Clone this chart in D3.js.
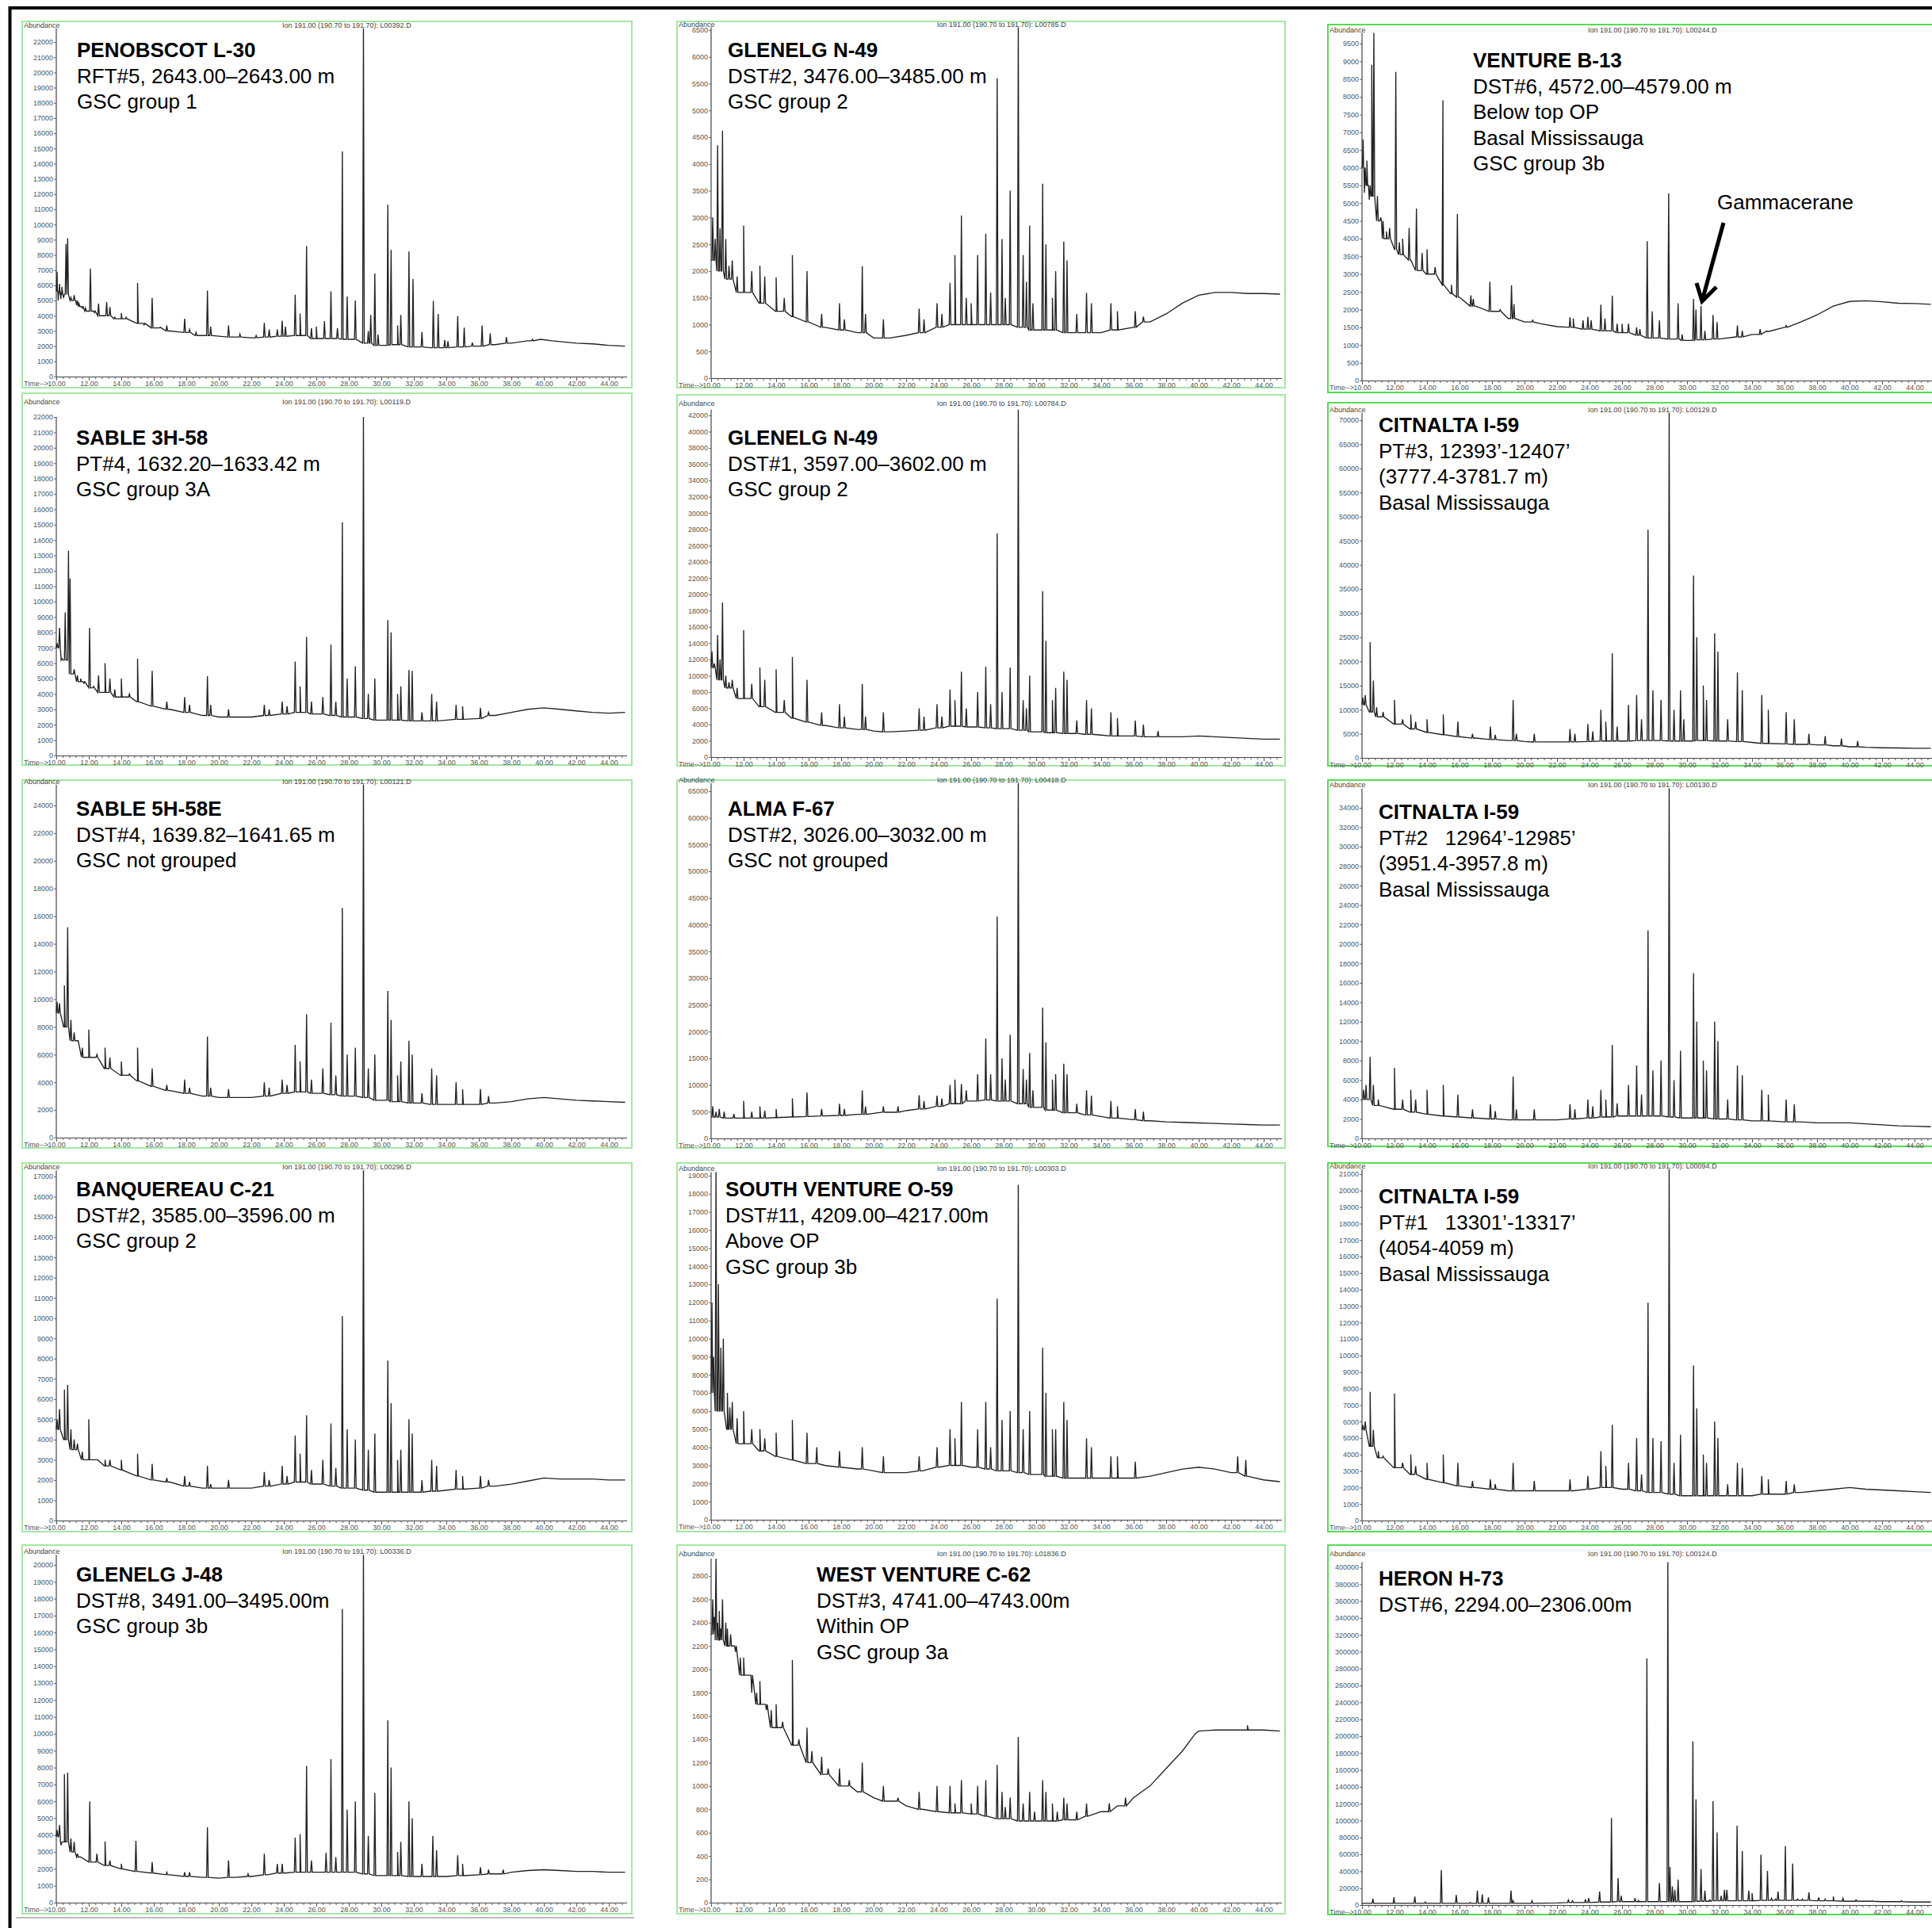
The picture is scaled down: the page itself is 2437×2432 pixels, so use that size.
<!DOCTYPE html>
<html>
<head>
<meta charset="utf-8">
<script src="https://cdn.jsdelivr.net/npm/d3@7"></script>
<style>
body { margin: 0; background: #fff; }
svg { display: block; font-family: "Liberation Sans", Arial, sans-serif; }
</style>
</head>
<body>
<svg id="chart" width="2437" height="2432"></svg>
<script>
// ---- data: [retention time (min), abundance] ----
var xTicks = [10, 12, 14, 16, 18, 20, 22, 24, 26, 28, 30, 32, 34, 36, 38, 40, 42, 44];

var titles = [
  ["PENOBSCOT L-30", "RFT#5, 2643.00–2643.00 m", "GSC group 1"],
  ["GLENELG N-49", "DST#2, 3476.00–3485.00 m", "GSC group 2"],
  ["VENTURE B-13", "DST#6, 4572.00–4579.00 m", "Below top OP", "Basal Mississauga", "GSC group 3b"],
  ["SABLE 3H-58", "PT#4, 1632.20–1633.42 m", "GSC group 3A"],
  ["GLENELG N-49", "DST#1, 3597.00–3602.00 m", "GSC group 2"],
  ["CITNALTA I-59", "PT#3, 12393’-12407’", "(3777.4-3781.7 m)", "Basal Mississauga"],
  ["SABLE 5H-58E", "DST#4, 1639.82–1641.65 m", "GSC not grouped"],
  ["ALMA F-67", "DST#2, 3026.00–3032.00 m", "GSC not grouped"],
  ["CITNALTA I-59", "PT#2   12964’-12985’", "(3951.4-3957.8 m)", "Basal Mississauga"],
  ["BANQUEREAU C-21", "DST#2, 3585.00–3596.00 m", "GSC group 2"],
  ["SOUTH VENTURE O-59", "DST#11, 4209.00–4217.00m", "Above OP", "GSC group 3b"],
  ["CITNALTA I-59", "PT#1   13301’-13317’", "(4054-4059 m)", "Basal Mississauga"],
  ["GLENELG J-48", "DST#8, 3491.00–3495.00m", "GSC group 3b"],
  ["WEST VENTURE C-62", "DST#3, 4741.00–4743.00m", "Within OP", "GSC group 3a"],
  ["HERON H-73", "DST#6, 2294.00–2306.00m"]
];

var fileIds = ["L00392.D", "L00785.D", "L00244.D", "L00119.D", "L00784.D", "L00129.D", "L00121.D",
  "L00418.D", "L00130.D", "L00296.D", "L00303.D", "L00094.D", "L00336.D", "L01836.D", "L00124.D"];

// [tick step, top labelled tick]
var yTickSpec = [[1000, 22000], [500, 6500], [500, 9500], [1000, 22000], [2000, 42000], [5000, 70000],
  [2000, 24000], [5000, 65000], [2000, 34000], [1000, 17000], [1000, 19000], [1000, 21000],
  [1000, 20000], [200, 2800], [20000, 400000]];

var base1 = [[10,5600],[10.5,5400],[11,5000],[11.5,4600],[12,4300],[13,4000],[14,3800],[15,3500],[16,3200],[17,3000],[18,2900],[19,2700],[20,2650],[21,2600],[22,2550],[23,2600],[24,2650],[25,2700],[26,2500],[27,2500],[28,2450],[29,2200],[30,2050],[31,2100],[32,1950],[33,1900],[34,1900],[35,1950],[36,2000],[37,2100],[38,2200],[39,2350],[39.8,2450],[40.5,2350],[42,2200],[43,2150],[44,2050],[45,2000]];
var peaks1 = [[10.05,6900],[10.12,5000],[10.2,6100],[10.28,5100],[10.35,5900],[10.45,5200],[10.6,8700],[10.7,9100],[10.9,5200],[11.1,5350],[11.25,4700],[11.4,4800],[11.6,4500],[11.8,4500],[12.1,7100],[12.35,4200],[12.6,4800],[13.1,4900],[13.3,4570],[13.6,3900],[14.0,4170],[14.3,3900],[15.0,6150],[15.4,3400],[15.9,5170],[16.4,3250],[16.8,3360],[17.9,3800],[18.2,3100],[18.6,2900],[19.3,5650],[19.5,3280],[20.6,3360],[21.3,2800],[22.3,2700],[22.8,3530],[23.1,3100],[23.6,3100],[23.9,3670],[24.1,3280],[24.7,5380],[25.0,4140],[25.4,8570],[25.7,3190],[26.0,3280],[26.5,3650],[26.9,5600],[27.3,3190],[27.6,14800],[27.9,5260],[28.4,5000],[28.9,22900],[29.2,3000],[29.35,4050],[29.6,6780],[29.8,2760],[30.4,11300],[30.6,8330],[31.0,3360],[31.2,4050],[31.7,8220],[31.95,6410],[32.5,2930],[33.2,4980],[33.5,4120],[33.9,2410],[34.1,2330],[34.7,3970],[35.1,3220],[35.6,2240],[36.2,3360],[36.7,2840],[37.7,2590],[39.3,2450]];

var base2 = [[10,2200],[10.5,2000],[11,1850],[12,1600],[13,1400],[14,1250],[15,1150],[16,1050],[17,950],[18,900],[19,850],[20,750],[21,750],[22,800],[23,850],[24,950],[25,1000],[26,1000],[27,1000],[28,1000],[29,950],[30,900],[31,900],[32,850],[33,850],[34,850],[35,900],[36,950],[37,1050],[38,1200],[39,1400],[40,1550],[41,1600],[42,1600],[43,1580],[44,1580],[45,1570]];
var peaks2 = [[10.1,3000],[10.25,2600],[10.4,4350],[10.55,2800],[10.7,4620],[10.9,2600],[11.1,2100],[11.3,2200],[11.6,1900],[12.0,2850],[12.5,2000],[13.0,2100],[13.3,1900],[14.0,1880],[14.5,1500],[15.0,2300],[15.9,2000],[16.8,1200],[17.9,1400],[18.2,1100],[19.3,2090],[19.5,1200],[20.6,1100],[22.8,1300],[23.1,1100],[23.9,1400],[24.2,1200],[24.7,1780],[25.0,2300],[25.4,3040],[25.7,1500],[26.0,1400],[26.4,2300],[26.9,2700],[27.2,1600],[27.6,5600],[27.9,2600],[28.1,1500],[28.4,3500],[28.9,6550],[29.2,2300],[29.4,1800],[29.6,2850],[29.8,1400],[30.4,3630],[30.6,2500],[31.0,1500],[31.2,2000],[31.7,2550],[31.9,2200],[32.5,1200],[33.1,1590],[33.4,1400],[34.6,1400],[35.0,1250],[36.1,1250],[36.6,1150]];

var base3 = [[10,6000],[10.3,5500],[10.6,5200],[11,4500],[11.5,4000],[12,3700],[12.5,3550],[13,3400],[13.5,3100],[14,3000],[15,2700],[15.5,2450],[16,2350],[17,2100],[18,1950],[19,1750],[20,1650],[21,1600],[22,1520],[23,1500],[24,1450],[25,1400],[26,1350],[27,1280],[28,1200],[29,1170],[30,1130],[31,1150],[32,1170],[33,1230],[34,1300],[35,1380],[36,1500],[37,1650],[38,1850],[39,2100],[40,2230],[41,2250],[42,2220],[43,2180],[44,2170],[45,2150]];
var peaks3 = [[10.07,6800],[10.15,5300],[10.3,6200],[10.45,5100],[10.6,8900],[10.73,9800],[10.95,5200],[11.15,4600],[11.3,4500],[11.5,4200],[11.7,4300],[12.08,8700],[12.3,3900],[12.5,4000],[12.9,4300],[13.35,4850],[13.7,3600],[14.0,3700],[14.5,3200],[14.98,7900],[15.5,2700],[15.87,4700],[16.7,2400],[16.85,2300],[17.87,2780],[18.5,2000],[19.2,2680],[19.35,2150],[20.5,1700],[22.8,1780],[23.0,1750],[23.6,1700],[23.9,1800],[24.1,1700],[24.7,2140],[24.95,1750],[25.4,2390],[25.7,1600],[26.0,1600],[26.4,1600],[26.9,1500],[27.1,1450],[27.55,3930],[27.86,1950],[28.3,1700],[28.87,5280],[29.45,2180],[29.7,1300],[30.4,2300],[30.55,2000],[30.86,2100],[31.1,1400],[31.6,1850],[31.85,1650],[33.1,1550],[33.4,1400],[34.5,1450],[34.9,1400],[36.1,1550]];

var base4 = [[10,7000],[10.5,6200],[11,5300],[11.5,4800],[12,4400],[13,4100],[14,3800],[15,3500],[16,3200],[17,3000],[18,2800],[19,2600],[20,2500],[21,2500],[22,2500],[23,2600],[24,2700],[25,2800],[26,2700],[27,2600],[28,2500],[29,2400],[30,2300],[31,2300],[32,2250],[33,2250],[34,2300],[35,2350],[36,2400],[37,2600],[38,2800],[39,3000],[40,3100],[41,3000],[42,2900],[43,2800],[44,2750],[45,2800]];
var peaks4 = [[10.05,7300],[10.2,8300],[10.35,6300],[10.55,9300],[10.75,13300],[10.85,11500],[11.1,5600],[11.3,5200],[11.5,5000],[11.7,4700],[12.05,8300],[12.3,4500],[12.6,5200],[13.0,6000],[13.3,5000],[13.6,4300],[14.0,5000],[14.5,4000],[15.0,6300],[15.9,5500],[16.8,3500],[17.9,3800],[18.2,3300],[19.3,5150],[19.5,3300],[20.6,3000],[22.8,3300],[23.1,3000],[23.9,3500],[24.2,3200],[24.7,6100],[25.0,4500],[25.4,7700],[25.7,3500],[26.4,3800],[26.9,7200],[27.2,3500],[27.6,15150],[27.9,5000],[28.4,5800],[28.9,22000],[29.2,4000],[29.6,5000],[30.4,8800],[30.6,8000],[31.0,4000],[31.2,4500],[31.7,5550],[31.9,5500],[32.5,2800],[33.1,4000],[33.4,3500],[34.6,3300],[35.0,3200],[36.1,3100],[36.6,2800]];

var base5 = [[10,11000],[10.5,9500],[11,8500],[12,7200],[13,6200],[14,5500],[15,4800],[16,4300],[17,3900],[18,3600],[19,3400],[20,3200],[21,3100],[22,3200],[23,3300],[24,3600],[25,3800],[26,3700],[27,3600],[28,3500],[29,3300],[30,3100],[31,3000],[32,2900],[33,2800],[34,2700],[35,2600],[36,2600],[37,2500],[38,2500],[39,2500],[40,2600],[41,2500],[42,2400],[43,2300],[44,2200],[45,2200]];
var peaks5 = [[10.05,13000],[10.2,11500],[10.4,15000],[10.55,12000],[10.7,19000],[10.9,10000],[11.1,9200],[11.3,9500],[11.6,8500],[12.0,15600],[12.5,9000],[13.0,11000],[13.3,9500],[14.0,10800],[14.5,7000],[15.0,12300],[15.9,9500],[16.8,5500],[17.9,6500],[18.2,5000],[19.3,9000],[19.5,5000],[20.6,5500],[22.8,6000],[23.1,5000],[23.9,6500],[24.2,5000],[24.7,8300],[25.0,7000],[25.4,10500],[25.7,6000],[26.4,8000],[26.9,11100],[27.2,6500],[27.6,27500],[27.9,8000],[28.4,11000],[28.9,42700],[29.2,7000],[29.4,6000],[29.6,10000],[30.4,20400],[30.6,14300],[31.0,7000],[31.2,8500],[31.7,10500],[31.9,9500],[32.5,4500],[33.1,7000],[33.4,6000],[34.6,5500],[35.0,4800],[36.1,4500],[36.6,4000],[37.5,3200]];

var base6 = [[10,11000],[10.5,9500],[11,8500],[12,7000],[13,6000],[14,5300],[15,4800],[16,4400],[17,4100],[18,3800],[19,3600],[20,3400],[21,3300],[22,3300],[23,3300],[24,3400],[25,3500],[26,3500],[27,3600],[28,3600],[29,3500],[30,3500],[31,3600],[32,3500],[33,3400],[34,3200],[35,3000],[36,2900],[37,2800],[38,2700],[39,2500],[40,2300],[41,2200],[42,2100],[43,2050],[44,2000],[45,2000]];
var peaks6 = [[10.05,12500],[10.2,13000],[10.5,24000],[10.7,16000],[10.9,10500],[11.3,9500],[12.0,12000],[12.5,8000],[13.0,9000],[13.3,7500],[14.0,8000],[15.0,9000],[15.9,7500],[16.8,5000],[17.9,6500],[18.2,4800],[19.3,12000],[19.5,5000],[20.6,5000],[22.8,6000],[23.1,5000],[23.9,7000],[24.2,5500],[24.7,10000],[25.0,7500],[25.4,21700],[25.7,6500],[26.4,11000],[26.9,13000],[27.2,8000],[27.6,47300],[27.9,14000],[28.4,12000],[28.9,71500],[29.2,10000],[29.6,14000],[29.8,8000],[30.4,37800],[30.6,25000],[31.0,15000],[31.2,12000],[31.7,25800],[31.9,22000],[32.5,8000],[33.1,17700],[33.4,14000],[34.6,13000],[35.0,10000],[36.1,9500],[36.6,8000],[37.5,5000],[38.5,4500],[39.5,4000],[40.5,3500]];

var base7 = [[10,9000],[10.5,8000],[11,7000],[12,5800],[13,5000],[14,4500],[15,4100],[16,3700],[17,3400],[18,3200],[19,3000],[20,2900],[21,2900],[22,2900],[23,3000],[24,3200],[25,3300],[26,3200],[27,3100],[28,3000],[29,2900],[30,2700],[31,2600],[32,2500],[33,2400],[34,2400],[35,2400],[36,2400],[37,2500],[38,2600],[39,2800],[40,2900],[41,2800],[42,2700],[43,2650],[44,2600],[45,2550]];
var peaks7 = [[10.05,9800],[10.2,9700],[10.5,11000],[10.7,15200],[10.9,8500],[11.1,7600],[11.3,7000],[11.6,6500],[12.0,7800],[12.5,6000],[13.0,6500],[13.3,5800],[14.0,5500],[14.5,4600],[15.0,6500],[15.9,5000],[16.8,3800],[17.9,4200],[18.2,3600],[19.3,7300],[19.5,3600],[20.6,3500],[22.8,4000],[23.1,3600],[23.9,4200],[24.2,3800],[24.7,6700],[25.0,5500],[25.4,8900],[25.7,4200],[26.4,5000],[26.9,8300],[27.2,4500],[27.6,16600],[27.9,6000],[28.4,6500],[28.9,25500],[29.2,5000],[29.6,6000],[30.4,10600],[30.6,8500],[31.0,4500],[31.2,5500],[31.7,7000],[31.9,6000],[32.5,3200],[33.1,5000],[33.4,4500],[34.6,4000],[35.0,3500],[36.1,3500],[36.6,3000]];

var base8 = [[10,4000],[11,3800],[12,3800],[13,3800],[14,3900],[15,4000],[16,4100],[17,4200],[18,4300],[19,4500],[20,4700],[21,4900],[22,5200],[23,5500],[24,6000],[25,6500],[26,7000],[27,7200],[28,7000],[29,6500],[30,5800],[31,5300],[32,4800],[33,4400],[34,4100],[35,3800],[36,3500],[37,3300],[38,3100],[39,3000],[40,2900],[41,2800],[42,2700],[43,2600],[44,2500],[45,2500]];
var peaks8 = [[10.1,6000],[10.3,5000],[10.5,5500],[10.8,5000],[11.4,4600],[12.0,7000],[12.5,5000],[13.0,6000],[13.3,5200],[14.0,5500],[15.0,7500],[15.9,8600],[16.8,5500],[17.9,6500],[18.2,5500],[19.3,9000],[19.5,6000],[20.6,6000],[21.5,6000],[22.8,8100],[23.1,7000],[23.9,8000],[24.2,7500],[24.7,10000],[25.0,11000],[25.4,10200],[25.7,9000],[26.4,12000],[26.9,18700],[27.2,12000],[27.6,41500],[27.9,15000],[28.1,11000],[28.4,19400],[28.9,66500],[29.2,13000],[29.4,11000],[29.6,16000],[29.8,9000],[30.4,24500],[30.6,18000],[31.0,11000],[31.2,12000],[31.7,14000],[31.9,12000],[32.5,6500],[33.1,9000],[33.4,8000],[34.6,7000],[35.0,6000],[36.1,5500],[36.6,5000]];

var base9 = [[10,4000],[11,3400],[12,3000],[13,2700],[14,2500],[15,2300],[16,2200],[17,2100],[18,2000],[19,1900],[20,1900],[21,1900],[22,1900],[23,2000],[24,2100],[25,2200],[26,2300],[27,2300],[28,2300],[29,2200],[30,2100],[31,2100],[32,2000],[33,1900],[34,1800],[35,1800],[36,1700],[37,1700],[38,1600],[39,1600],[40,1600],[41,1500],[42,1400],[43,1300],[44,1250],[45,1200]];
var peaks9 = [[10.1,5000],[10.25,5500],[10.5,8400],[10.7,5500],[11.0,4000],[12.0,7260],[12.5,4000],[13.0,5000],[13.3,4000],[14.0,5000],[15.0,5500],[15.9,4500],[16.8,3000],[17.9,3500],[18.2,2800],[19.3,6360],[19.5,3000],[20.6,3000],[22.8,3500],[23.1,3000],[23.9,4000],[24.2,3300],[24.7,5000],[25.0,4000],[25.4,9600],[25.7,3600],[26.4,5500],[26.9,7500],[27.2,4500],[27.6,21400],[27.9,7000],[28.4,8000],[28.9,36000],[29.2,6000],[29.6,9000],[30.4,17000],[30.6,12000],[31.0,8000],[31.2,7000],[31.7,12000],[31.9,10000],[32.5,4000],[33.1,7500],[33.4,6500],[34.6,5000],[35.0,4500],[36.1,4000],[36.6,3500]];

var base10 = [[10,4500],[10.5,4000],[11,3500],[12,3000],[13,2700],[14,2500],[15,2200],[16,2000],[17,1900],[18,1700],[19,1600],[20,1600],[21,1600],[22,1600],[23,1700],[24,1800],[25,1900],[26,1800],[27,1700],[28,1600],[29,1500],[30,1400],[31,1400],[32,1400],[33,1450],[34,1500],[35,1550],[36,1600],[37,1700],[38,1800],[39,1950],[40,2100],[41,2050],[42,2050],[43,2050],[44,2000],[45,2000]];
var peaks10 = [[10.05,5000],[10.2,5500],[10.5,6470],[10.7,6700],[10.9,4500],[11.1,4000],[11.3,3800],[11.6,3400],[12.0,5000],[12.5,3000],[13.0,3000],[13.3,3000],[14.0,3000],[15.0,3300],[15.9,2800],[16.8,2100],[17.9,2200],[18.2,1900],[19.3,2700],[19.5,1800],[20.6,2000],[22.8,2400],[23.1,2000],[23.9,2700],[24.2,2200],[24.7,4200],[25.0,3300],[25.4,5200],[25.7,2500],[26.4,3000],[26.9,4800],[27.2,2600],[27.6,10100],[27.9,4500],[28.4,4000],[28.9,17300],[29.2,3500],[29.6,4300],[30.4,7900],[30.6,5800],[31.0,3000],[31.2,3500],[31.7,5000],[31.9,4300],[32.5,2000],[33.1,3000],[33.4,2700],[34.6,2500],[35.0,2200],[36.1,2200],[36.6,2000]];

var base11 = [[10,7000],[10.5,6000],[11,5000],[12,4200],[13,3800],[14,3500],[15,3300],[16,3100],[17,3000],[18,2900],[19,2800],[20,2700],[21,2600],[22,2600],[23,2700],[24,2900],[25,3000],[26,2900],[27,2800],[28,2700],[29,2600],[30,2500],[31,2400],[32,2300],[33,2300],[34,2300],[35,2300],[36,2300],[37,2400],[38,2600],[39,2800],[40,2900],[41,2800],[42,2600],[43,2400],[44,2200],[45,2100]];
var peaks11 = [[10.05,12000],[10.15,9000],[10.3,19200],[10.45,13000],[10.6,9500],[10.75,10000],[11.0,7000],[11.15,6200],[11.3,6500],[11.6,5600],[12.0,6000],[12.5,5000],[13.0,5000],[13.3,4500],[14.0,4800],[15.0,5500],[15.9,4800],[16.5,4000],[17.9,3800],[19.3,4000],[20.6,3500],[22.8,3500],[23.9,4000],[24.7,5000],[25.0,4500],[25.4,6500],[26.4,5000],[26.9,6500],[27.2,4000],[27.6,12200],[27.9,5500],[28.4,6000],[28.9,18500],[29.2,5000],[29.6,6000],[30.4,9500],[30.6,7000],[31.0,5000],[31.2,5000],[31.7,6500],[31.9,5500],[33.1,4500],[33.4,4000],[34.6,3500],[35.0,3500],[36.1,3200],[42.4,3500],[42.9,3300]];

var base12 = [[10,5500],[10.5,4500],[11,3800],[12,3200],[13,2800],[14,2500],[15,2300],[16,2100],[17,2000],[18,1900],[19,1800],[20,1800],[21,1800],[22,1800],[23,1800],[24,1900],[25,2000],[26,1900],[27,1800],[28,1700],[29,1600],[30,1500],[31,1500],[32,1500],[33,1500],[34,1500],[35,1600],[36,1600],[37,1700],[38,1800],[39,1900],[40,2000],[41,1900],[42,1850],[43,1800],[44,1750],[45,1700]];
var peaks12 = [[10.05,5800],[10.2,6000],[10.5,7800],[10.7,5500],[11.0,4200],[11.3,3900],[12.0,7700],[12.5,3500],[13.0,4000],[13.3,3300],[14.0,3500],[15.0,4000],[15.9,3500],[16.8,2400],[17.9,2500],[18.2,2200],[19.3,3500],[20.6,2400],[22.8,2500],[23.9,2700],[24.7,4200],[25.0,3300],[25.4,5800],[26.4,3500],[26.9,5000],[27.2,2800],[27.6,13200],[27.9,5000],[28.4,4800],[28.9,21300],[29.2,3500],[29.6,5200],[30.4,9400],[30.6,6800],[31.0,4000],[31.2,3500],[31.7,6000],[31.9,5000],[32.5,2200],[33.1,3500],[33.4,3200],[34.6,2700],[35.0,2500],[36.1,2400],[36.6,2200]];

var base13 = [[10,3900],[10.5,3600],[11,3000],[11.5,2700],[12,2400],[13,2200],[14,2000],[15,1850],[16,1750],[17,1650],[18,1550],[19,1500],[20,1450],[21,1500],[22,1550],[23,1650],[24,1750],[25,1800],[26,1800],[27,1800],[28,1800],[29,1700],[30,1600],[31,1600],[32,1550],[33,1550],[34,1550],[35,1600],[36,1650],[37,1700],[38,1800],[39,1900],[40,1950],[41,1900],[42,1850],[43,1850],[44,1800],[45,1800]];
var peaks13 = [[10.05,4300],[10.2,4600],[10.3,3400],[10.5,7600],[10.7,7700],[10.9,3800],[11.1,3600],[11.3,2900],[12.06,6000],[12.5,2900],[13.0,3620],[13.3,2500],[14.0,2300],[14.9,3660],[15.9,2400],[16.8,1800],[17.9,1800],[18.2,1800],[19.3,4460],[20.6,2500],[21.8,1700],[22.8,2900],[23.6,2300],[23.9,2300],[24.7,3850],[25.0,4050],[25.4,8100],[25.7,2500],[26.6,2950],[26.9,8500],[27.2,2700],[27.6,17400],[27.9,5500],[28.4,6000],[28.9,20600],[29.2,3950],[29.6,6500],[30.4,10800],[30.6,8000],[31.0,3000],[31.2,3600],[31.7,6000],[31.9,5000],[32.5,2300],[33.17,3950],[33.4,3100],[34.7,2800],[35.0,2300],[36.1,2100],[36.6,1950],[37.5,1950]];

var base14 = [[10,2300],[10.5,2250],[11,2200],[12,1950],[13,1700],[14,1500],[15,1350],[16,1200],[17,1100],[18,1000],[19,950],[20,900],[21,870],[22,830],[23,800],[24,780],[25,770],[26,760],[27,740],[28,720],[29,700],[30,700],[31,700],[32,710],[33,740],[34,780],[35,830],[36,900],[37,1000],[38,1150],[39,1300],[39.8,1450],[40,1470],[41,1480],[42,1480],[43,1480],[44,1480],[45,1470]];
var peaks14 = [[10.1,2600],[10.2,2450],[10.3,2950],[10.4,2400],[10.5,2500],[10.6,2350],[10.7,2600],[10.9,2400],[11.0,2350],[11.2,2300],[11.5,2150],[11.8,2100],[12.0,2100],[12.2,1950],[12.5,1800],[12.8,1800],[13.0,1900],[13.4,1650],[13.7,1650],[14.0,1700],[14.4,1550],[15.0,2080],[15.4,1400],[15.9,1500],[16.2,1300],[16.8,1250],[17.2,1150],[17.9,1150],[18.5,1050],[19.3,1200],[20.6,1000],[21.5,900],[22.8,950],[23.9,1000],[24.7,1000],[25.0,850],[25.4,1050],[26.0,850],[26.4,1000],[26.9,1050],[27.6,1180],[27.9,950],[28.1,820],[28.4,900],[28.9,1420],[29.2,850],[29.6,950],[29.9,780],[30.4,1050],[30.6,950],[31.0,850],[31.3,780],[31.7,900],[31.9,850],[32.5,780],[33.1,850],[34.5,850],[35.5,900],[43.0,1520]];

var base15 = [[10,2000],[12,2000],[14,2000],[16,2000],[18,2000],[20,2000],[22,2500],[23,3000],[24,3000],[25,3500],[26,4000],[27,4000],[28,4000],[29,4000],[30,4000],[31,4500],[32,5000],[33,5000],[34,5000],[35,5500],[36,5500],[37,5500],[38,5000],[39,5000],[40,4500],[41,4500],[42,4000],[43,4000],[44,3500],[45,3500]];
var peaks15 = [[10.67,7500],[11.97,9400],[13.25,10000],[13.9,3500],[14.88,41600],[15.8,12000],[16.65,3000],[17.1,17000],[17.4,12700],[17.78,9000],[19.17,17000],[19.3,5000],[20.46,5000],[22.7,6000],[22.95,5000],[23.75,7000],[23.95,8000],[24.62,16000],[25.35,103000],[25.76,32000],[25.95,11000],[26.8,8000],[27.0,6000],[27.53,292000],[28.3,26000],[28.82,406000],[28.95,45000],[29.1,22000],[29.25,18000],[29.45,30000],[30.36,194000],[30.55,125000],[30.86,42600],[31.1,17000],[31.4,6000],[31.6,123000],[31.85,86000],[32.1,11000],[32.3,18000],[32.45,18000],[33.08,94000],[33.4,64000],[33.8,17000],[34.0,14000],[34.55,59700],[34.95,40300],[35.2,8000],[35.45,7000],[35.6,16000],[36.05,70000],[36.5,49000],[36.8,7000],[37.1,7000],[37.5,15000],[38.1,9000],[38.5,7000],[39.0,10000],[39.6,8000],[40.4,6000],[41.4,5000],[43.2,5000]];

var bases = [base1, base2, base3, base4, base5, base6, base7, base8, base9, base10, base11, base12, base13, base14, base15];
var peakSets = [peaks1, peaks2, peaks3, peaks4, peaks5, peaks6, peaks7, peaks8, peaks9, peaks10, peaks11, peaks12, peaks13, peaks14, peaks15];

// ---- layout (pixels) ----
var colX = [28, 854, 1675];
var colRight = [797, 1621, 2470];
var frameColor = ["#a3e8a3", "#a3e8a3", "#55dd55"];
var layout = [
  {col: 0, y0: 27, y1: 489, zeroY: 475, topY: 53, tx: 97, ty: 72},
  {col: 1, y0: 27, y1: 489, zeroY: 477, topY: 38, tx: 918, ty: 72},
  {col: 2, y0: 31, y1: 495, zeroY: 480, topY: 55, tx: 1858, ty: 85},
  {col: 0, y0: 496, y1: 965, zeroY: 953, topY: 526, tx: 96, ty: 561},
  {col: 1, y0: 498, y1: 966, zeroY: 955, topY: 524, tx: 918, ty: 561},
  {col: 2, y0: 508, y1: 966, zeroY: 956, topY: 530, tx: 1739, ty: 545},
  {col: 0, y0: 984, y1: 1448, zeroY: 1435, topY: 1016, tx: 96, ty: 1029},
  {col: 1, y0: 984, y1: 1448, zeroY: 1436, topY: 998, tx: 918, ty: 1029},
  {col: 2, y0: 984, y1: 1446, zeroY: 1436, topY: 1019, tx: 1739, ty: 1033},
  {col: 0, y0: 1467, y1: 1932, zeroY: 1918, topY: 1484, tx: 96, ty: 1509},
  {col: 1, y0: 1467, y1: 1932, zeroY: 1917, topY: 1483, tx: 915, ty: 1509},
  {col: 2, y0: 1467, y1: 1932, zeroY: 1918, topY: 1481, tx: 1739, ty: 1518},
  {col: 0, y0: 1949, y1: 2414, zeroY: 2400, topY: 1974, tx: 96, ty: 1995},
  {col: 1, y0: 1949, y1: 2414, zeroY: 2400, topY: 1988, tx: 1030, ty: 1995},
  {col: 2, y0: 1949, y1: 2415, zeroY: 2403, topY: 1977, tx: 1739, ty: 2000}
];
var axisOffset = 43, pxPerMin = 20.5, tEnd = 45.1, halfWidth = 0.05;

var svg = d3.select("#chart");

// nearest read baseline value for a peak foot
function footAt(base, t) {
  var best = base[0];
  base.forEach(function (p) { if (Math.abs(p[0] - t) < Math.abs(best[0] - t)) best = p; });
  return best[1];
}

function tracePoints(base, peaks) {
  var pts = base.map(function (p) { return [p[0], p[1]]; });
  peaks.forEach(function (p) {
    var f = footAt(base, p[0]);
    pts.push([p[0] - halfWidth, f], [p[0], p[1]], [p[0] + halfWidth, f]);
  });
  pts.sort(function (a, b) { return a[0] - b[0]; });
  return pts;
}

function drawPanel(i) {
  var L = layout[i];
  var x0 = colX[L.col];
  var ax = x0 + axisOffset;
  var g = svg.append("g");

  g.append("rect")
      .attr("x", x0).attr("y", L.y0)
      .attr("width", colRight[L.col] - x0).attr("height", L.y1 - L.y0)
      .attr("fill", "none").attr("stroke", frameColor[L.col]).attr("stroke-width", 2);

  var x = d3.scaleLinear().domain([10, tEnd]).range([ax, ax + (tEnd - 10) * pxPerMin]);
  var y = d3.scaleLinear().domain([0, yTickSpec[i][1]]).range([L.zeroY, L.topY]);

  var pts = tracePoints(bases[i], peakSets[i]);
  var yMax = d3.max(pts, function (p) { return p[1]; });
  var axisTop = y(yMax);

  // y axis
  var yAxis = d3.axisLeft(y)
      .tickValues(d3.range(0, yTickSpec[i][1] + 1, yTickSpec[i][0]))
      .tickFormat(d3.format("d"))
      .tickSize(3).tickPadding(1);
  var ya = g.append("g").attr("transform", "translate(" + ax + ",0)").call(yAxis);
  ya.select(".domain").remove();
  ya.attr("font-family", null).attr("font-size", 9);
  ya.selectAll("line").attr("stroke", "#666");
  ya.selectAll("text").attr("fill", "#555");
  g.append("line").attr("x1", ax).attr("x2", ax).attr("y1", axisTop).attr("y2", L.zeroY)
      .attr("stroke", "#444").attr("stroke-width", 1.2);

  // x axis: minor then major ticks
  var minor = d3.range(10, 45.01, 0.4);
  var xm = g.append("g").attr("transform", "translate(0," + L.zeroY + ")")
      .call(d3.axisBottom(x).tickValues(minor).tickSize(3).tickSizeOuter(0).tickFormat(""));
  xm.selectAll("line").attr("stroke", "#555");
  xm.select(".domain").attr("stroke", "#444").attr("stroke-width", 1.2);
  var xa = g.append("g").attr("transform", "translate(0," + L.zeroY + ")")
      .call(d3.axisBottom(x).tickValues(xTicks).tickSize(5).tickSizeOuter(0).tickPadding(1)
        .tickFormat(d3.format(".2f")));
  xa.select(".domain").remove();
  xa.attr("font-family", null).attr("font-size", 9);
  xa.selectAll("line").attr("stroke", "#555");
  xa.selectAll("text").attr("fill", "#555");
  g.append("text").attr("x", x0 + 2).attr("y", L.zeroY + 12)
      .attr("font-size", 9).attr("fill", "#555").text("Time-->");

  // header (kept just above the top tick label)
  var headY = Math.min(axisTop - 1, L.y0 + 14);
  g.append("text").attr("x", x0 + 2).attr("y", headY)
      .attr("font-size", 9).attr("fill", "#444").text("Abundance");
  g.append("text").attr("x", x0 + 328).attr("y", headY)
      .attr("font-size", 9).attr("fill", "#444")
      .text("Ion 191.00 (190.70 to 191.70): " + fileIds[i]);

  // trace
  var line = d3.line().x(function (p) { return x(p[0]); }).y(function (p) { return y(p[1]); });
  g.append("path").datum(pts)
      .attr("d", line).attr("fill", "none")
      .attr("stroke", "#222").attr("stroke-width", 1.35);

  // title block
  var t = g.append("text").attr("font-size", 26).attr("fill", "#000").style("white-space", "pre");
  titles[i].forEach(function (s, k) {
    t.append("tspan").attr("x", L.tx).attr("y", L.ty + k * 32.5)
        .attr("font-weight", k === 0 ? "bold" : "normal").text(s);
  });
}

for (var i = 0; i < 15; i++) drawPanel(i);

// gammacerane callout on the Venture B-13 panel
svg.append("text").attr("x", 2166).attr("y", 264).attr("font-size", 26).text("Gammacerane");
svg.append("line").attr("x1", 2174).attr("y1", 281).attr("x2", 2148).attr("y2", 376)
    .attr("stroke", "#000").attr("stroke-width", 5);
svg.append("path").attr("d", "M2140,357 L2147,380 L2165,362")
    .attr("fill", "none").attr("stroke", "#000").attr("stroke-width", 5);

// outer frame and bottom rule
svg.append("path").attr("d", "M12.5,2432 V10 H2437")
    .attr("fill", "none").attr("stroke", "#000").attr("stroke-width", 4);
svg.append("line").attr("x1", 20).attr("x2", 800).attr("y1", 2419).attr("y2", 2419)
    .attr("stroke", "#bbb").attr("stroke-width", 2);
</script>
</body>
</html>
